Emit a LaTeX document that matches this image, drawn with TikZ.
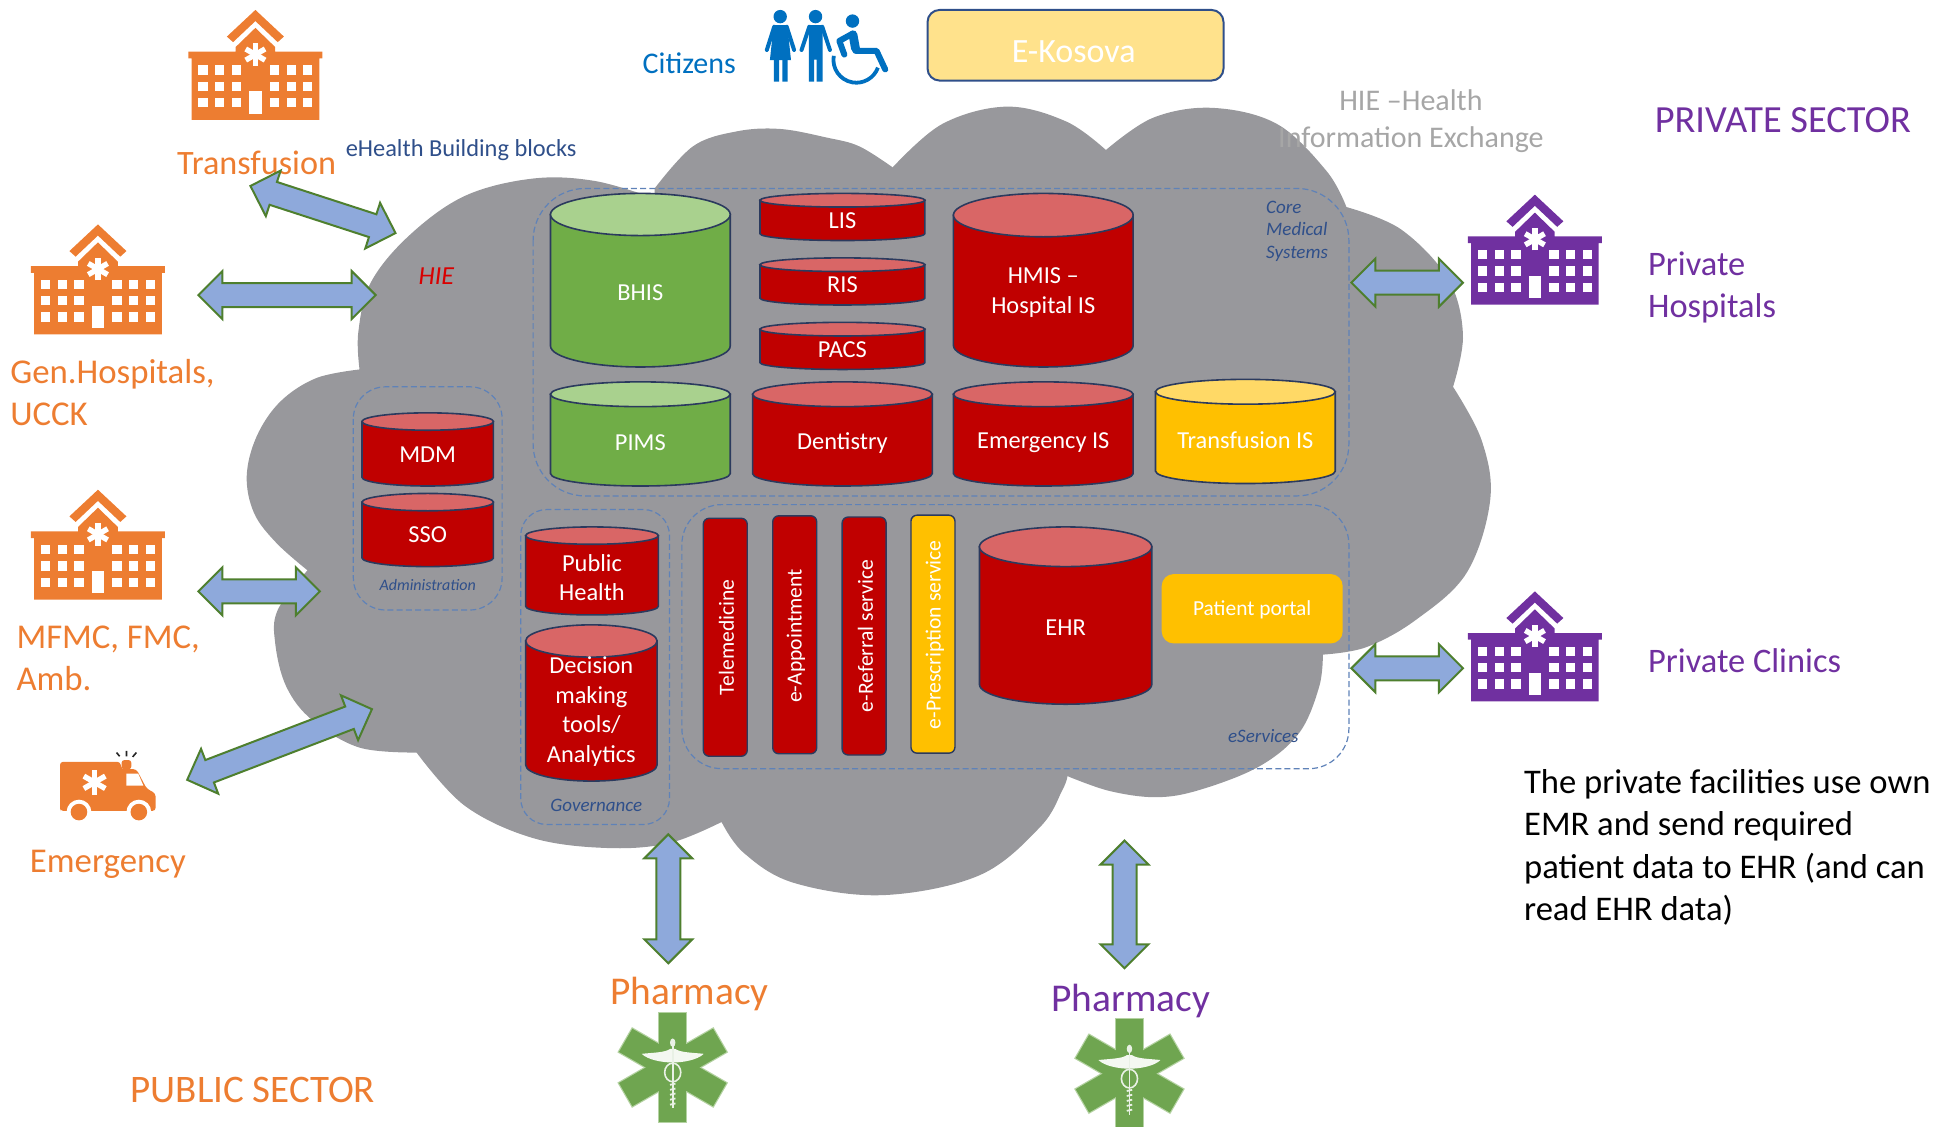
\documentclass[tikz,border=0pt]{standalone}
\usepackage{fontspec}
\setmainfont{Carlito}
\usetikzlibrary{calc}
\definecolor{cloudc}{HTML}{98989C}
\definecolor{orangec}{HTML}{ED7D31}
\definecolor{purplec}{HTML}{7030A0}
\definecolor{bluec}{HTML}{0070C0}
\definecolor{arrowfill}{HTML}{8EA9DB}
\definecolor{arrowline}{HTML}{4E7F2E}
\definecolor{redbody}{HTML}{C00000}
\definecolor{redtop}{HTML}{D96666}
\definecolor{greenbody}{HTML}{70AD47}
\definecolor{greentop}{HTML}{A9D18E}
\definecolor{yellowbody}{HTML}{FFC000}
\definecolor{yellowtop}{HTML}{FFD966}
\definecolor{edgec}{HTML}{2B3A5E}
\definecolor{dashc}{HTML}{5F82B8}
\definecolor{labelc}{HTML}{2F4F8A}
\definecolor{starc}{HTML}{6FA550}
\definecolor{starpale}{HTML}{B4D2A2}
\tikzset{
  celltext/.style={text=white,font=\fontsize{12.2}{14.7}\selectfont,align=center,inner sep=0pt},
  bartext/.style={text=white,font=\fontsize{10.8}{13}\selectfont,inner sep=0pt,rotate=90},
  barbox/.style={draw=edgec,line width=.7pt,rounded corners=3pt,minimum width=22pt,inner sep=0pt},
  cyledge/.style={draw=edgec,line width=.8pt},
  dashbox/.style={draw=dashc,line width=.6pt,dash pattern=on 3pt off 1.6pt},
  groupname/.style={text=labelc,font=\fontsize{9.5}{11.2}\itshape\selectfont,inner sep=0pt,align=left},
  orangetxt/.style={text=orangec,font=\fontsize{17.4}{21.2}\selectfont,inner sep=0pt,align=left},
  purpletxt/.style={text=purplec,font=\fontsize{17.2}{21.2}\selectfont,inner sep=0pt,align=left},
  blockarrow/.style={draw=arrowline,fill=arrowfill,line width=1pt,line join=miter},
  pics/hospital/.style={code={
    \fill[#1] (0,0) -- (23,21.5) -- (18,26) -- (0,9) -- (-18,26) -- (-23,21.5) -- cycle;
    \fill[#1] (0,14.5) -- (16,30) -- (16,33.6) -- (54,33.6) -- (54,39) -- (51.5,39) -- (51.5,88.7)
       -- (-51.5,88.7) -- (-51.5,39) -- (-54,39) -- (-54,33.6) -- (-16,33.6) -- (-16,30) -- cycle;
    \foreach \wx in {-46,-32.5,-19,11.7,25.2,38.6}
      \foreach \wy in {44.6,57.8,71}
        \fill[white] (\wx,\wy) rectangle ++(7.4,7.6);
    \fill[white] (-5,65.8) rectangle (5,83.6);
    \foreach \ang in {90,30,-30}
      \draw[white,line width=2.7pt] (0,36)++(\ang:9) -- ++(\ang+180:18);
  }},
  pics/lifestar/.style={code={
    \foreach \ang in {0,60,120}
      \draw[starpale,line width=1.2pt,rotate=\ang] (-10.8,-43.8) rectangle (10.8,43.8);
    \foreach \ang in {0,60,120}
      \fill[starc,rotate=\ang] (-10.8,-43.8) rectangle (10.8,43.8);
    \fill[white!92!starc] (0,-4) .. controls (-8,-4) and (-20,-6) .. (-25,-11) .. controls (-16,-12) and (-6,-12) .. (-2,-15)
       -- (2,-15) .. controls (6,-12) and (16,-12) .. (25,-11) .. controls (20,-6) and (8,-4) .. (0,-4) -- cycle;
    \draw[white!85!starc,line width=.9pt] (0,-20) -- (0,33);
    \fill[white!85!starc] (0,-20) ellipse [x radius=2.2,y radius=3.4];
    \draw[white!85!starc,line width=.8pt] (0,4) ellipse [x radius=6.5,y radius=7.5];
    \foreach \by in {14,18,22,26,30}
      \draw[white!85!starc,line width=.9pt] (-2.2,\by) -- (2.2,\by-1);
  }}
}
\newcommand{\cyl}[9]{%
  \pgfmathsetmacro\cylx{(#2+#3)/2}\pgfmathsetmacro\cylr{(#3-#2)/2}%
  \pgfmathsetmacro\cyla{#4+#6}\pgfmathsetmacro\cylb{#5-#6}%
  \draw[cyledge,fill=#7body] (#2,\cyla) -- (#2,\cylb) arc[start angle=180,end angle=0,x radius=\cylr,y radius=#6] -- (#3,\cyla) -- cycle;
  \draw[cyledge,fill=#7top] (\cylx,\cyla) ellipse [x radius=\cylr,y radius=#6];
  \node[celltext] (#1) at (\cylx,#8) {#9};
}
% double block arrow between two named points
\newcommand{\darrow}[2]{%
  \draw[blockarrow] (#1) -- ($(#1)!12pt!(#2)!12pt!90:(#2)$) -- ($(#1)!12pt!(#2)!6pt!90:(#2)$)
    -- ($(#2)!12pt!(#1)!6pt!-90:(#1)$) -- ($(#2)!12pt!(#1)!12pt!-90:(#1)$) -- (#2)
    -- ($(#2)!12pt!(#1)!12pt!90:(#1)$) -- ($(#2)!12pt!(#1)!6pt!90:(#1)$)
    -- ($(#1)!12pt!(#2)!6pt!-90:(#2)$) -- ($(#1)!12pt!(#2)!12pt!-90:(#2)$) -- cycle;
}
\begin{document}
\begin{tikzpicture}[x=0.62pt,y=-0.62pt]
\useasboundingbox (0,0) rectangle (1568,909);
% cloud
\fill[cloudc] plot[smooth,tension=.6] coordinates {(290,298) (289,268) (299,228) (330,190) (375,158) (430,144) (480,146) (528,160)}
  -- plot[smooth,tension=.6] coordinates {(528,152) (559,118) (594,106) (629,104) (667,111) (693,118) (720,135)}
  -- plot[smooth,tension=.6] coordinates {(720,135) (760,100) (812,86) (860,98) (892,121)}
  -- plot[smooth,tension=.6] coordinates {(892,121) (930,95) (978,87) (1030,100) (1070,138) (1086,167)}
  -- plot[smooth,tension=.6] coordinates {(1086,167) (1130,185) (1168,225) (1180,270) (1172,312)}
  -- plot[smooth,tension=.6] coordinates {(1172,312) (1195,355) (1202,403) (1183,462) (1142,500) (1102,522) (1067,528)}
  -- plot[smooth,tension=.6] coordinates {(1067,528) (1064,554) (1048,591) (1016,618) (968,637) (933,643) (895,638) (861,626)}
  -- plot[smooth,tension=.6] coordinates {(861,626) (857,637) (839,667) (790,706) (712,722) (640,712) (600,688) (582,663)}
  -- plot[smooth,tension=.6] coordinates {(582,663) (540,680) (490,684) (430,676) (375,650) (336,607)}
  -- plot[smooth,tension=.6] coordinates {(336,607) (290,603) (252,581) (231,554) (222,519) (224,492) (248,460)}
  -- plot[smooth,tension=.6] coordinates {(248,460) (223,438) (205,414) (199,384) (207,352) (226,324) (255,305) (290,298)}
  -- cycle;
% dashed groups
\draw[dashbox,rounded corners=26pt] (430,152) rectangle (1088,400);
\draw[dashbox,rounded corners=16pt] (285,312) rectangle (405,492);
\draw[dashbox,rounded corners=13pt] (420,411) rectangle (540,665);
\draw[dashbox,rounded corners=20pt] (550,407) rectangle (1088,620);
% cylinders
\cyl{bhis}{444}{589}{156}{296}{17}{green}{236}{BHIS}
\cyl{lis}{613}{746}{156}{194}{5.5}{red}{178}{LIS}
\cyl{ris}{613}{746}{208}{246}{5.5}{red}{230}{RIS}
\cyl{pacs}{613}{746}{260}{298}{5.5}{red}{282}{PACS}
\cyl{hmis}{769}{914}{156}{296}{17.5}{red}{236}{HMIS --\\Hospital IS}
\cyl{pims}{444}{589}{308}{392}{10}{green}{357}{PIMS}
\cyl{dentistry}{607}{752}{308}{392}{10}{red}{357}{Dentistry}
\cyl{emergis}{769}{914}{308}{392}{10}{red}{357}{Emergency IS}
\cyl{transis}{932}{1077}{306}{390}{10}{yellow}{355}{Transfusion IS}
\cyl{mdm}{292}{398}{333}{392}{7}{red}{367}{MDM}
\cyl{sso}{292}{398}{398}{457}{7}{red}{431}{SSO}
\cyl{pubhealth}{424}{531}{425}{496}{7}{red}{466}{Public\\Health}
\cyl{decision}{424}{530}{504}{630}{13}{red}{574}{Decision\\making\\tools/\\Analytics}
\cyl{ehr}{790}{929}{425}{568}{16}{red}{506}{EHR}
% bars
\node[barbox,fill=redbody,minimum height=119pt] (telebox) at (585,514) {};
\node[bartext] (tele) at (586,514) {Telemedicine};
\node[barbox,fill=redbody,minimum height=119pt] (apptbox) at (641,512) {};
\node[bartext] (appt) at (642,513) {e-Appointment};
\node[barbox,fill=redbody,minimum height=119pt] (refbox) at (697,513) {};
\node[bartext] (ref) at (698,513) {e-Referral service};
\node[barbox,fill=yellowbody,minimum height=119pt] (presbox) at (752.5,511.5) {};
\node[bartext] (pres) at (754,512) {e-Prescription service};
\node[fill=yellowbody,rounded corners=6pt,minimum width=90.5pt,minimum height=34.7pt,inner sep=0pt] (portal) at (1010,491) {};
\node[inner sep=0pt,text=white,font=\fontsize{10.7}{13}\selectfont] (portaltxt) at (1010,492) {Patient portal};
% group labels
\node[groupname,anchor=west] (core) at (1021,186.5) {Core\\Medical\\Systems};
\node[groupname,font=\fontsize{8}{10}\itshape\selectfont] (admin) at (345,472) {Administration};
\node[groupname] (gov) at (481,650) {Governance};
\node[groupname] (eserv) at (1019,594) {eServices};
\node[inner sep=0pt,text=red!85!black,font=\fontsize{13}{16}\itshape\selectfont] (hie) at (352,223) {HIE};
\node[inner sep=0pt,text=labelc,font=\fontsize{12.2}{15}\selectfont] (blocks) at (372,121) {eHealth Building blocks};
\node[inner sep=0pt,text=black!35,align=center,font=\fontsize{15}{18.6}\selectfont] (hieinfo) at (1138,98) {HIE --Health\\Information Exchange};
% top
\node[inner sep=0pt,text=bluec,font=\fontsize{15}{18}\selectfont] (citizens) at (556,51) {Citizens};
\node[draw=labelc,line width=1pt,fill=yellowtop!75!white,rounded corners=6pt,minimum width=148pt,minimum height=35.3pt,inner sep=0pt] (ekosova) at (867.5,36.5) {};
\node[inner sep=0pt,text=white,font=\fontsize{17}{20}\selectfont] (ekosovatxt) at (866,42) {E-Kosova};
% people
\fill[bluec] (629.3,13.4) circle [radius=5.4];
\fill[bluec] (624,20.2) -- (635,20.2) -- (638,48.4) -- (621,48.4) -- cycle;
\fill[bluec] (624.2,48) rectangle (628.5,65.9) (631,48) rectangle (635.2,65.9);
\draw[bluec,line width=2pt,line cap=round] (624.5,21.5) -- (618.5,40.3) (634.5,21.5) -- (640.5,40.3);
\fill[bluec] (657.8,13.4) circle [radius=5.4];
\fill[bluec] (652.4,20.2) rectangle (663.6,48) (652.4,45) rectangle (656.7,65.9) (658.6,45) rectangle (663.6,65.9);
\draw[bluec,line width=2pt,line cap=round] (652.8,21.5) -- (646.5,40.3) (663.2,21.5) -- (669.4,40.3);
\fill[bluec] (687.6,17) circle [radius=5.4];
\draw[bluec,line width=4.4pt,line cap=round,line join=round] (688,28) -- (690,39);
\draw[bluec,line width=3pt,line cap=round,line join=round] (687,27.5) -- (677,33) -- (681,44);
\draw[bluec,line width=3pt,line join=round,line cap=round] (690,41) -- (707,41) -- (714,56);
\draw[bluec,line width=1.9pt] (672.5,45) arc[start angle=190,end angle=20,radius=18.5];
% ambulance
\fill[orangec,rounded corners=1.5pt] (48.4,652) -- (48.4,614.5) -- (97,614.5) -- (98,620.4) -- (110,620.4) -- (118.3,636) -- (125.5,640) -- (125.5,654) -- (48.4,654) -- cycle;
\fill[orangec,rounded corners=1.5pt] (98,620.5) rectangle (106,613);
\fill[white] (102,624) -- (111.5,624) -- (115.6,633.6) -- (102,633.6) -- cycle;
\foreach \wx in {63.7,112} {
  \fill[white] (\wx,655) circle [radius=10];
  \fill[orangec] (\wx,655) circle [radius=6.7];
}
\foreach \ang in {90,30,-30}
  \draw[white,line width=2.7pt] (76.3,631)++(\ang:10) -- ++(\ang+180:20);
\draw[black!85,line width=.8pt] (102,605.6) -- (102,610) (94,607) -- (96.5,610) (110,607) -- (107,610.5);
% hospitals
\pic (hosptrans) at (206,8) {hospital=orangec};
\pic (hospgen) at (79,181) {hospital=orangec};
\pic (hospmfmc) at (79,395) {hospital=orangec};
\pic (hosppriv) at (1238,157) {hospital=purplec};
\pic (hospclin) at (1238,477) {hospital=purplec};
% stars
\pic (star1) at (542.6,861) {lifestar};
\pic (star2) at (911,866) {lifestar};
% labels
\node[orangetxt,font=\fontsize{17.1}{21.2}\selectfont] (ltrans) at (207,131) {Transfusion};
\node[orangetxt,anchor=west] (lgen) at (8,316.5) {Gen.Hospitals,\\UCCK};
\node[orangetxt,anchor=west] (lmfmc) at (13,531) {MFMC, FMC,\\Amb.};
\node[orangetxt] (lemerg) at (87,697) {Emergency};
\node[orangetxt,font=\fontsize{19.7}{22}\selectfont] (lpharm1) at (556,802) {Pharmacy};
\node[purpletxt,font=\fontsize{19.7}{22}\selectfont] (lpharm2) at (912,807) {Pharmacy};
\node[purpletxt,anchor=west] (lpriv) at (1329,232) {Private\\Hospitals};
\node[purpletxt,anchor=west] (lclin) at (1329,533) {Private Clinics};
\node[purpletxt,font=\fontsize{19.2}{22}\selectfont] (lprivsec) at (1438,97) {PRIVATE SECTOR};
\node[orangetxt,font=\fontsize{19.5}{22}\selectfont] (lpubsec) at (204,879) {PUBLIC SECTOR};
\node[inner sep=0pt,anchor=west,align=left,text=black,font=\fontsize{17.3}{21.2}\selectfont] (lnote) at (1229,683.5) {The private facilities use own\\EMR and send required\\patient data to EHR (and can\\read EHR data)};
% arrows
\coordinate (atr1) at (202,150); \coordinate (atr2) at (319,188);
\coordinate (agen1) at (160,238); \coordinate (agen2) at (303,238);
\coordinate (amf1) at (160,477); \coordinate (amf2) at (258,477);
\coordinate (aem1) at (151,629); \coordinate (aem2) at (300,572);
\coordinate (aph1) at (1090,228); \coordinate (aph2) at (1180,228);
\coordinate (apc1) at (1090,539); \coordinate (apc2) at (1180,539);
\coordinate (ava1) at (539,673); \coordinate (ava2) at (539,777);
\coordinate (avb1) at (907,678); \coordinate (avb2) at (907,781);
\darrow{atr1}{atr2}
\darrow{agen1}{agen2}
\darrow{amf1}{amf2}
\darrow{aem1}{aem2}
\darrow{aph1}{aph2}
\darrow{apc1}{apc2}
\darrow{ava1}{ava2}
\darrow{avb1}{avb2}
\end{tikzpicture}
\end{document}
